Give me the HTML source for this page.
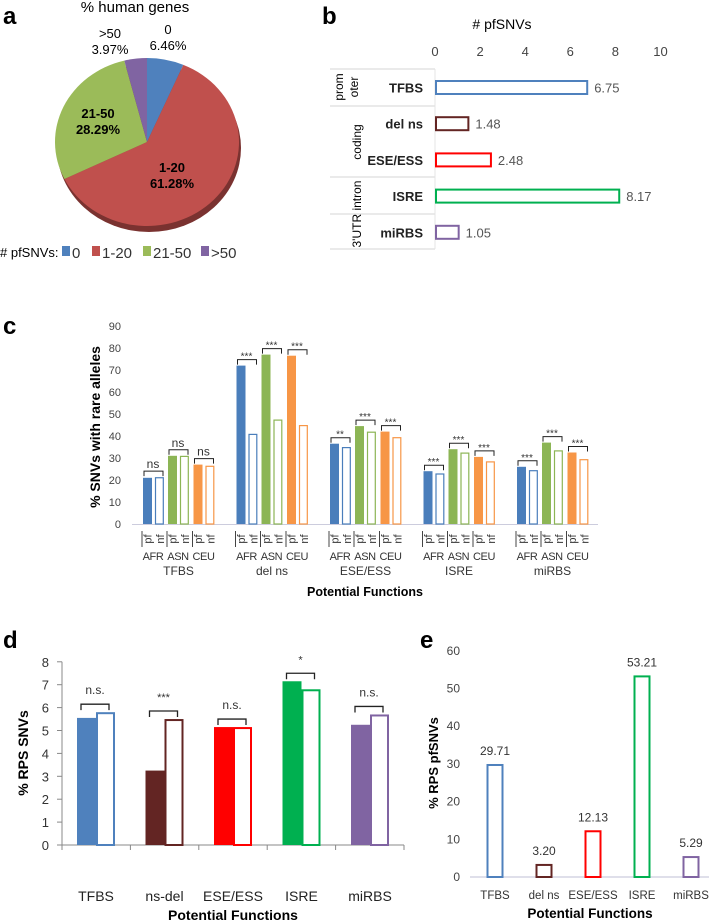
<!DOCTYPE html>
<html><head><meta charset="utf-8">
<style>
html,body{margin:0;padding:0;background:#fff;}
svg{display:block;font-family:"Liberation Sans",Arial,sans-serif;}
</style></head>
<body>
<svg id="fig" width="709" height="922" viewBox="0 0 709 922" xmlns="http://www.w3.org/2000/svg">
<g font-weight="bold" font-size="24" fill="#000">
<text x="3" y="24">a</text>
<text x="322" y="24">b</text>
<text x="3" y="334">c</text>
<text x="3" y="648">d</text>
<text x="420" y="648">e</text>
</g>
<g id="pa"></g>
<g id="pb"></g>
<g id="pc"></g>
<g id="pd"></g>
<g id="pe"></g>
</svg>
<script>
// ---------- data ----------
const pieLabels = ["0","1-20","21-50",">50"];
const pieValues = [6.46,61.28,28.29,3.97];
const pieColors = ["#4f81bd","#c0504d","#9bbb59","#8064a2"];

const bCats = ["TFBS","del ns","ESE/ESS","ISRE","miRBS"];
const bValues = [6.75,1.48,2.48,8.17,1.05];
const bTicks = [0,2,4,6,8,10];

const cGroups = ["TFBS","del ns","ESE/ESS","ISRE","miRBS"];
const cPops = ["AFR","ASN","CEU"];
const cPf = [[21,31,27],[72,77,76.5],[36.5,44.5,42],[24,34,30.5],[26,37,32.5]];
const cNf = [[21.3,31,26.5],[41,47.5,45],[35,42,39.5],[23,32.5,28.5],[24.5,33.5,29.5]];
const cSig = [["ns","ns","ns"],["***","***","***"],["**","***","***"],["***","***","***"],["***","***","***"]];
const cTicks = [0,10,20,30,40,50,60,70,80,90];

const dCats = ["TFBS","ns-del","ESE/ESS","ISRE","miRBS"];
const dPf = [5.55,3.25,5.15,7.15,5.25];
const dNf = [5.8,5.5,5.15,6.8,5.7];
const dSig = ["n.s.","***","n.s.","*","n.s."];
const dTicks = [0,1,2,3,4,5,6,7,8];

const eCats = ["TFBS","del ns","ESE/ESS","ISRE","miRBS"];
const eValues = [29.71,3.20,12.13,53.21,5.29];
const eLabels = ["29.71","3.20","12.13","53.21","5.29"];
const eTicks = [0,10,20,30,40,50,60];

const catColors = ["#4f81bd","#632523","#ff0000","#00b050","#8064a2"];
const popColors = ["#4a7ebb","#8cb555","#f79646"];

// ---------- helpers ----------
const NS="http://www.w3.org/2000/svg";
function mk(parent,tag,attrs,text){
  const e=document.createElementNS(NS,tag);
  for(const k in attrs) e.setAttribute(k,attrs[k]);
  if(text!==undefined) e.textContent=text;
  parent.appendChild(e); return e;
}

// ---------- panel a ----------
(function(){
  const g=document.getElementById('pa');
  const cx=147,cy=142,rx=92,ry=84;
  let t=mk(g,'text',{x:135,y:12,'font-size':15,'text-anchor':'middle'},'% human genes');
  
  
  let sh=mk(g,'ellipse',{cx:cx+2,cy:cy+6,rx:rx,ry:ry,fill:'#7a3230'});
  
  
  const total=pieValues.reduce((a,b)=>a+b,0);
  let a0=-Math.PI/2;
  pieValues.forEach((v,i)=>{
    const a1=a0+v/total*2*Math.PI;
    const x0=cx+rx*Math.cos(a0),y0=cy+ry*Math.sin(a0);
    const x1=cx+rx*Math.cos(a1),y1=cy+ry*Math.sin(a1);
    const large=(a1-a0)>Math.PI?1:0;
    const p=mk(g,'path',{d:`M${cx},${cy}L${x0},${y0}A${rx},${ry} 0 ${large} 1 ${x1},${y1}Z`,fill:pieColors[i]});
    
    
    a0=a1;
  });
  const labs=[[168,34,50],[172,172,188],[98,118,134],[110,38,54]];
  pieValues.forEach((v,i)=>{
    const [x,y1,y2]=labs[i];
    const tt=mk(g,'text',{x:x,y:y1,'font-size':13,'text-anchor':'middle','font-weight':i===0||i===3?'normal':'bold'},pieLabels[i]);
    
    
    const t2=mk(g,'text',{x:x,y:y2,'font-size':13,'text-anchor':'middle','font-weight':i===0||i===3?'normal':'bold'},v.toFixed(2)+'%');
    
    
  });
  const lg=mk(g,'g',{});
  
  
  mk(lg,'text',{x:0,y:257,'font-size':13},'# pfSNVs:');
  const lx=[62,92,143,201];
  pieLabels.forEach((l,i)=>{
    const r=mk(lg,'rect',{x:lx[i],y:246,width:8,height:10,fill:pieColors[i]});
    
    
    const tx=mk(lg,'text',{x:lx[i]+10,y:258,'font-size':15,fill:'#333'},l);
    
    
  });
})();

// ---------- panel b ----------
(function(){
  const g=document.getElementById('pb');
  const x=v=>435+v*22.55;
  const rowY=i=>87.5+i*36.2;
  let t=mk(g,'text',{x:502,y:29,'font-size':14,'text-anchor':'middle'},'# pfSNVs');
  
  
  bTicks.forEach(v=>{
    const tk=mk(g,'text',{x:x(v),y:56,'font-size':13,'text-anchor':'middle',fill:'#444'},v);
    
    
  });
  [69,106,177,214,249].forEach(y=>{
    const l=mk(g,'line',{x1:330,x2:435,y1:y,y2:y,stroke:'#ddd','stroke-width':1.2});
    
    
  });
  const vl=mk(g,'line',{x1:435,x2:435,y1:69,y2:249,stroke:'#e4e4e4','stroke-width':1});
  
  
  [[339,87,"prom"],[354,87,"oter"],[357,142,"coding"],[357,214,"3'UTR intron"]].forEach(([gx,gy,s])=>{
    const tt=mk(g,'text',{x:gx,y:gy,'font-size':12,'text-anchor':'middle',transform:`rotate(-90 ${gx} ${gy})`,dy:4},s);
    
    
  });
  bCats.forEach((c,i)=>{
    const y=rowY(i);
    const lab=mk(g,'text',{x:423,y:y+5,'font-size':13,'text-anchor':'end','font-weight':'bold','fill':'#222'},c);
    
    
    const r=mk(g,'rect',{x:x(0)+1,y:y-6.5,width:x(bValues[i])-x(0)-1,height:13,fill:'#fff',stroke:catColors[i],'stroke-width':2});
    
    
    const vt=mk(g,'text',{x:x(bValues[i])+7,y:y+5,'font-size':13,fill:'#555'},bValues[i].toFixed(2));
    
    
  });
})();

// ---------- panel c ----------
(function(){
  const g=document.getElementById('pc');
  const y=v=>524-v*2.2;
  const gx=i=>143+i*93.5;
  const popOff=[0,25,50.5], bw=9;
  cTicks.forEach(v=>{
    const tk=mk(g,'text',{x:121,y:y(v)+4,'font-size':11,'text-anchor':'end',fill:'#444'},v);
    
    
  });
  const ax=mk(g,'line',{x1:132,x2:598,y1:524.5,y2:524.5,stroke:'#ccd','stroke-width':1});
  
  
  const yt=mk(g,'text',{x:0,y:0,'font-size':14,'font-weight':'bold','text-anchor':'middle',transform:'translate(100 427) rotate(-90)'},'% SNVs with rare alleles');
  
  
  cGroups.forEach((grp,gi)=>{
    cPops.forEach((p,pi)=>{
      const x0=gx(gi)+popOff[pi];
      const vp=cPf[gi][pi], vn=cNf[gi][pi];
      const r1=mk(g,'rect',{x:x0,y:y(vp),width:bw,height:y(0)-y(vp),fill:popColors[pi]});
      
      
      const r2=mk(g,'rect',{x:x0+12.5,y:y(vn)+0.6,width:bw-1.2,height:y(0)-y(vn)-0.6,fill:'#fff',stroke:popColors[pi],'stroke-width':1.2});
      
      
      const top=y(Math.max(vp,vn))-6;
      const br=mk(g,'path',{d:`M${x0+1},${top+5}V${top}H${x0+20}V${top+5}`,fill:'none',stroke:'#222','stroke-width':1});
      
      
      const s=cSig[gi][pi];
      const st=mk(g,'text',{x:x0+10,y:s==='ns'?top-3:top,'font-size':s==='ns'?12:10,'text-anchor':'middle',fill:'#333'},s);
      
      
      ['pf','nf'].forEach((k,ki)=>{
        const cx=x0+4.5+ki*12.5;
        const tt=mk(g,'text',{x:0,y:0,'font-size':11,'text-anchor':'middle',fill:'#333',transform:`translate(${cx+4} 539) rotate(-90)`},k);
        
        
      });
      const sep=mk(g,'line',{x1:x0-1,x2:x0-1,y1:531,y2:547,stroke:'#444','stroke-width':1});
      
      
      const pl=mk(g,'text',{x:x0+10,y:560,'font-size':11,'text-anchor':'middle',fill:'#333','letter-spacing':'-0.4'},p);
      
      
    });
    const gl=mk(g,'text',{x:gx(gi)+35.5,y:575,'font-size':12,'text-anchor':'middle',fill:'#333'},grp);
    
    
  });
  const xt=mk(g,'text',{x:365,y:596,'font-size':12.5,'font-weight':'bold','text-anchor':'middle'},'Potential Functions');
  
  
})();

// ---------- panel d ----------
(function(){
  const g=document.getElementById('pd');
  const y=v=>845-v*22.9;
  const cx=i=>96+i*68.5, bw=19;
  dTicks.forEach(v=>{
    const tk=mk(g,'text',{x:49,y:y(v)+5,'font-size':13,'text-anchor':'end',fill:'#333'},v);
    
    
    const tm=mk(g,'line',{x1:57,x2:62,y1:y(v),y2:y(v),stroke:'#888'});
    
    
  });
  const ya=mk(g,'line',{x1:62,x2:62,y1:y(8),y2:y(0),stroke:'#888'});
  
  
  const xa=mk(g,'line',{x1:62,x2:404,y1:y(0),y2:y(0),stroke:'#888'});
  
  
  for(let k=0;k<=5;k++){
    const tm=mk(g,'line',{x1:62+k*68.4,x2:62+k*68.4,y1:y(0),y2:y(0)+5,stroke:'#888'});
    
    
  }
  const yt=mk(g,'text',{x:0,y:0,'font-size':14,'font-weight':'bold','text-anchor':'middle',transform:'translate(28 753) rotate(-90)'},'% RPS SNVs');
  
  
  dCats.forEach((c,i)=>{
    const c0=cx(i);
    const r1=mk(g,'rect',{x:c0-bw,y:y(dPf[i]),width:bw,height:y(0)-y(dPf[i]),fill:catColors[i]});
    
    
    const r2=mk(g,'rect',{x:c0+1,y:y(dNf[i])+1,width:bw-2,height:y(0)-y(dNf[i])-1,fill:'#fff',stroke:catColors[i],'stroke-width':2});
    
    
    const top=y(Math.max(dPf[i],dNf[i])+0.35);
    const br=mk(g,'path',{d:`M${c0-15},${top+6}V${top}H${c0+13}V${top+6}`,fill:'none',stroke:'#222','stroke-width':1.3});
    
    
    const st=mk(g,'text',{x:c0-1,y:top-10,'font-size':dSig[i].indexOf('*')>=0?11:12,'text-anchor':'middle',fill:'#333'},dSig[i]);
    
    
    const lab=mk(g,'text',{x:c0,y:901,'font-size':14,'text-anchor':'middle',fill:'#222'},c);
    
    
  });
  const xt=mk(g,'text',{x:233,y:920,'font-size':14,'font-weight':'bold','text-anchor':'middle'},'Potential  Functions');
  
  
})();

// ---------- panel e ----------
(function(){
  const g=document.getElementById('pe');
  const y=v=>877-v*3.77;
  const cx=i=>495+i*49, bw=15;
  eTicks.forEach(v=>{
    const tk=mk(g,'text',{x:460,y:y(v)+4,'font-size':12,'text-anchor':'end',fill:'#444'},v);
    
    
  });
  const xa=mk(g,'line',{x1:470,x2:715,y1:y(0),y2:y(0),stroke:'#ccd','stroke-width':1.2});
  
  
  const yt=mk(g,'text',{x:0,y:0,'font-size':13,'font-weight':'bold','text-anchor':'middle',transform:'translate(438 763) rotate(-90)'},'% RPS pfSNVs');
  
  
  eCats.forEach((c,i)=>{
    const c0=cx(i);
    const r=mk(g,'rect',{x:c0-bw/2,y:y(eValues[i]),width:bw,height:y(0)-y(eValues[i]),fill:'#fff',stroke:catColors[i],'stroke-width':2});
    
    
    const vt=mk(g,'text',{x:c0,y:y(eValues[i])-10,'font-size':12,'text-anchor':'middle',fill:'#333'},eLabels[i]);
    
    
    const lab=mk(g,'text',{x:c0,y:899,'font-size':11.5,'text-anchor':'middle',fill:'#333'},c);
    
    
  });
  const xt=mk(g,'text',{x:590,y:918,'font-size':13.5,'font-weight':'bold','text-anchor':'middle'},'Potential Functions');
  
  
})();
</script>
</body></html>
